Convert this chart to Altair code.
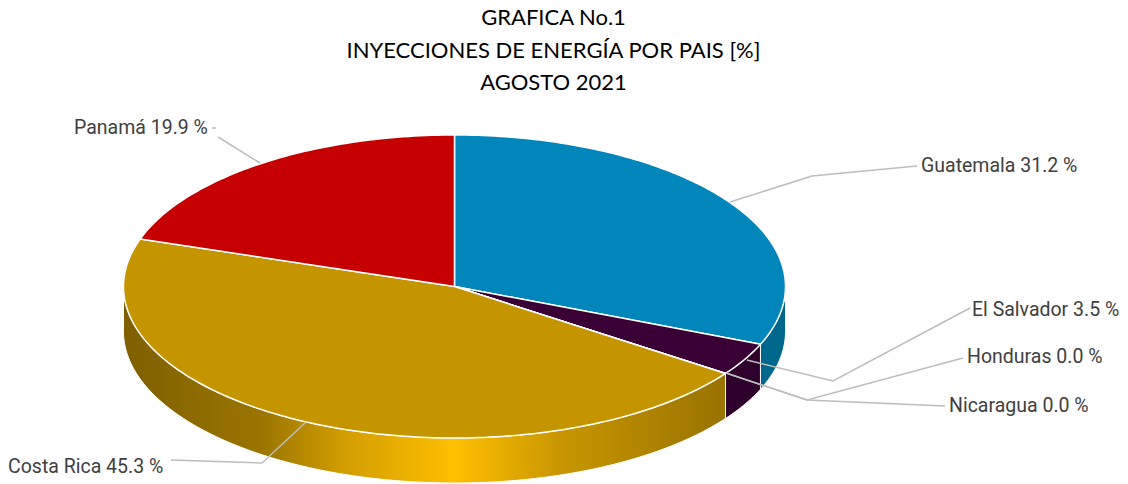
import math
import altair as alt
import pandas as pd

# --- values
countries = ["Guatemala", "El Salvador", "Honduras", "Nicaragua", "Costa Rica", "Panamá"]
shares = [31.2, 3.5, 0.0, 0.0, 45.3, 19.9]
title_lines = ["GRAFICA No.1", "INYECCIONES DE ENERGÍA POR PAIS [%]", "AGOSTO 2021"]

# --- styles
top_colors = ["#0086bb", "#3a0035", "#3a0035", "#3a0035", "#c59500", "#c60000"]
wall_colors = ["#00678d", "#2e002c", "#2e002c", "#2e002c", None, "#900000"]
gold_wall = alt.LinearGradient(
    gradient="linear", x1=0, y1=0, x2=1, y2=0,
    stops=[
        alt.GradientStop(offset=0.0, color="#7f5f00"),
        alt.GradientStop(offset=0.23, color="#9a7500"),
        alt.GradientStop(offset=0.36, color="#d09c00"),
        alt.GradientStop(offset=0.55, color="#ffbf00"),
        alt.GradientStop(offset=0.725, color="#c89600"),
        alt.GradientStop(offset=1.0, color="#997300"),
    ],
)

# --- layout
W, H = 1112, 476
CX, CY, RX, RY, DEPTH = 454.5, 286.5, 331, 151.5, 45
x_scale = alt.Scale(domain=[8, 8 + W])
y_scale = alt.Scale(domain=[8 + H, 8])


def ex(a):
    return CX + RX * math.sin(math.radians(a))


def ey(a):
    return CY - RY * math.cos(math.radians(a))


def arc(a, b, dy=0.0):
    n = max(2, int(abs(b - a)) + 2)
    return [(ex(a + (b - a) * i / (n - 1)), ey(a + (b - a) * i / (n - 1)) + dy) for i in range(n)]


def poly(points, **mark):
    df = pd.DataFrame(points, columns=["x", "y"])
    df["i"] = range(len(df))
    return alt.Chart(df).mark_line(**mark).encode(
        x=alt.X("x:Q", scale=x_scale, axis=None),
        y=alt.Y("y:Q", scale=y_scale, axis=None),
        order="i:Q",
    )


total = sum(shares)
bounds = [0.0]
for s in shares:
    bounds.append(bounds[-1] + s / total * 360)

layers = []
# side walls (front half only)
for i, (a, b) in enumerate(zip(bounds[:-1], bounds[1:])):
    a2, b2 = max(a, 90), min(b, 270)
    if b2 - a2 <= 0:
        continue
    pts = arc(a2, b2) + arc(b2, a2, DEPTH)
    pts.append(pts[0])
    fill = wall_colors[i] if wall_colors[i] else gold_wall
    layers.append(poly(pts, fill=fill, stroke="#ffffff", strokeWidth=1))
# top slices
for i, (a, b) in enumerate(zip(bounds[:-1], bounds[1:])):
    pts = [(CX, CY)] + arc(a, b) + [(CX, CY)]
    layers.append(poly(pts, fill=top_colors[i], stroke="#ffffff", strokeWidth=1.5, strokeJoin="round"))

# leader lines
leaders = [
    [(730, 202), (812, 176), (917, 166)],
    [(747, 360), (833, 381), (970, 308)],
    [(726, 373), (807, 400), (963, 358)],
    [(726, 373), (807, 400), (945, 406)],
    [(305, 423), (262, 463), (171, 460)],
    [(260, 163), (218, 137)],
    [(212, 128), (216, 128)],
]
for pts in leaders:
    layers.append(poly(pts, stroke="#bdbdbd", strokeWidth=1.5))

# labels
label_left = [921, 972, 967, 949, 8, 74]
label_mid = [166, 309.5, 357, 406, 467, 127.5]
labels = pd.DataFrame({
    "t": [f"{c} {s:.1f} %" for c, s in zip(countries, shares)],
    "x": label_left,
    "y": label_mid,
})
layers.append(
    alt.Chart(labels).mark_text(
        align="left", baseline="middle", font="Roboto", fontSize=19.5, color="#404040"
    ).encode(
        x=alt.X("x:Q", scale=x_scale, axis=None),
        y=alt.Y("y:Q", scale=y_scale, axis=None),
        text="t:N",
    )
)

# title
titles = pd.DataFrame({"t": title_lines, "x": [553.5, 553.5, 553.5], "y": [18, 50.5, 83]})
layers.append(
    alt.Chart(titles).mark_text(
        align="center", baseline="middle", font="Lato", fontSize=22, color="#000000"
    ).encode(
        x=alt.X("x:Q", scale=x_scale, axis=None),
        y=alt.Y("y:Q", scale=y_scale, axis=None),
        text="t:N",
    )
)

chart = (
    alt.layer(*layers)
    .properties(width=W, height=H, padding=0, autosize="none", background="#ffffff")
    .configure_view(strokeWidth=0)
)
chart.save("out.html", embed_options={"renderer": "svg", "actions": False})
